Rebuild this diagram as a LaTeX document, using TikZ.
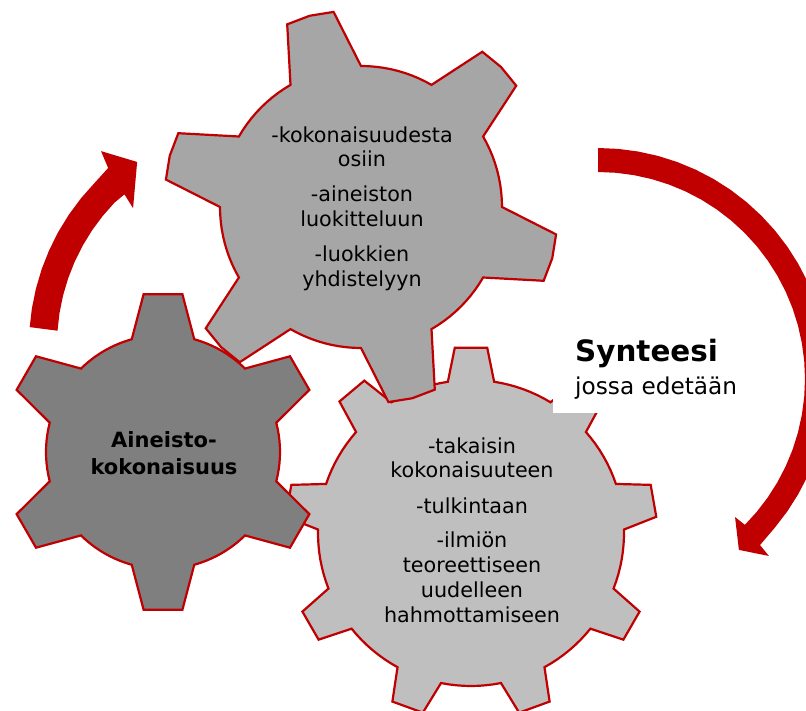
\documentclass[tikz,border=0pt]{standalone}
\usepackage{fontspec}
\setmainfont{DejaVu Sans}
\definecolor{cogred}{HTML}{C00000}
\definecolor{cogdark}{HTML}{7F7F7F}
\definecolor{cogmid}{HTML}{A6A6A6}
\definecolor{coglight}{HTML}{BFBFBF}
\begin{document}
\begin{tikzpicture}[x=1pt,y=-1pt,
  cog/.style={draw=cogred, line width=2.2pt, line join=miter},
  flow/.style={fill=cogred},
  gtext/.style={anchor=base, inner sep=0pt, font=\fontsize{20.7}{24}\selectfont},
  btext/.style={anchor=base, inner sep=0pt, font=\fontsize{21}{26}\selectfont\bfseries},
  ttext/.style={anchor=base west, inner sep=0pt}]
\useasboundingbox (0,0) rectangle (806,711);
\clip (0,0) rectangle (806,711);

% gear with nine teeth (lower right)
\begin{scope}[shift={(471,533)}]
\draw[cog, fill=coglight] (-98.7:153)
  \foreach \k [evaluate=\k as \a using -90+40*\k] in {0,...,8}{
    -- ({\a-8.7}:153) -- ({\a-5}:186) -- ({\a+5}:186) -- ({\a+8.7}:153)
    \foreach \f in {1,...,7}{ -- ({\a+8.7+\f*(40-17.4)/8}:153) }
  } -- cycle;
\end{scope}

% gear with six teeth (left)
\begin{scope}[shift={(163,452)}]
\draw[cog, fill=cogdark] (-105.5:117)
  \foreach \k [evaluate=\k as \a using -90+60*\k] in {0,...,5}{
    -- ({\a-15.5}:117) -- ({\a-7}:159) -- ({\a+7}:159) -- ({\a+15.5}:117)
    \foreach \f in {1,...,9}{ -- ({\a+15.5+\f*(60-31)/10}:117) }
  } -- cycle;
\end{scope}

% gear with six teeth (top)
\begin{scope}[shift={(361,207)}]
\draw[cog, fill=cogmid] (-120:141)
  \foreach \k [evaluate=\k as \a using -105+60*\k] in {0,...,5}{
    -- ({\a-15}:141) -- ({\a-7}:197) -- ({\a}:198) -- ({\a+7}:197) -- ({\a+15}:141)
    \foreach \f in {1,...,9}{ -- ({\a+15+\f*(60-30)/10}:141) }
  } -- cycle;
\end{scope}

% backing panel of the side caption
\fill[white] (553,318) rectangle (745,413);

% curved arrow on the right
\begin{scope}[shift={(598,379)}]
\fill[flow] (-90:231)
  \foreach \t in {-85,-80,...,40}{ -- (\t:231) }
  -- (45.7:232) -- (46:246) -- (50.5:221.5) -- (45.2:194.5) -- (44.8:207)
  \foreach \t in {40,35,...,-85}{ -- (\t:207) }
  -- (-90:207) -- cycle;
\end{scope}

% curved arrow on the left
\begin{scope}[shift={(262,345)}]
\fill[flow] (-175.6:233)
  \foreach \t in {-171,-166,...,-136}{ -- (\t:233) }
  -- (-131:234.5) -- (-129.7:252) -- (-124.3:221.6) -- (-133.3:188) -- (-132.4:204)
  \foreach \t in {-136,-141,...,-171}{ -- (\t:205) }
  -- (-176:205) -- cycle;
\end{scope}

% labels of the gears
\node[btext] (a1) at (164,447) {Aineisto-};
\node[btext] (a2) at (164,474) {kokonaisuus};

\foreach \y/\t [count=\i] in {143/-kokonaisuudesta, 167/osiin, 202/-aineiston,
    227/luokitteluun, 262/-luokkien, 287/yhdistelyyn}
  \node[gtext] (b\i) at (362,\y) {\t};

\foreach \y/\t [count=\i] in {453/-takaisin, 477/kokonaisuuteen, 513/-tulkintaan,
    547/-ilmiön, 572/teoreettiseen, 597/uudelleen, 622/hahmottamiseen}
  \node[gtext] (c\i) at (472,\y) {\t};

% side caption
\node[ttext, font=\fontsize{29.4}{34}\selectfont\bfseries] (s1) at (575,362) {Synteesi};
\node[ttext, font=\fontsize{23.2}{28}\selectfont] (s2) at (575,394) {jossa edetään};
\end{tikzpicture}
\end{document}
